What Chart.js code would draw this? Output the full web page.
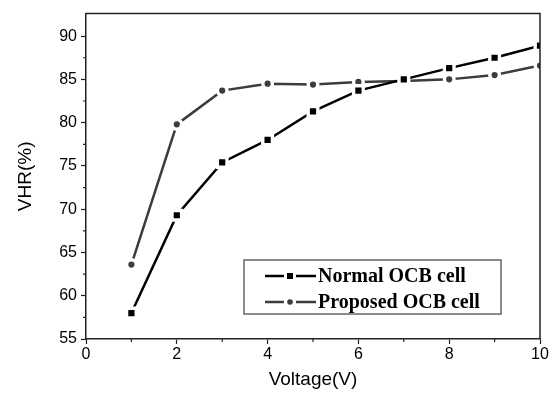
<!DOCTYPE html>
<html>
<head>
<meta charset="utf-8">
<script src="https://cdn.jsdelivr.net/npm/chart.js@4.4.1/dist/chart.umd.min.js"></script>
<style>
  html, body { margin: 0; padding: 0; background: #fff; }
  #wrap { width: 554px; height: 396px; }
</style>
</head>
<body>
<div id="wrap"><canvas id="chart" width="554" height="396"></canvas></div>
<script>
// data
const voltages = [1, 2, 3, 4, 5, 6, 7, 8, 9, 10];
const normalVHR = [58.0, 69.3, 75.4, 78.0, 81.3, 83.7, 85.0, 86.3, 87.5, 88.9];
const proposedVHR = [63.6, 79.8, 83.7, 84.5, 84.4, 84.7, 84.8, 85.0, 85.5, 86.6];
const seriesLabels = ["Normal OCB cell", "Proposed OCB cell"];

const toPoints = (xs, ys) => xs.map((x, i) => ({ x: x, y: ys[i] }));

// frame, minor ticks and the boxed legend
const extras = {
  id: "extras",
  afterDraw(chart) {
    const { ctx, chartArea: a, scales } = chart;
    ctx.save();
    ctx.strokeStyle = "#222";
    ctx.lineWidth = 1.5;
    ctx.beginPath();
    ctx.moveTo(a.left, a.top);
    ctx.lineTo(a.right, a.top);
    ctx.lineTo(a.right, a.bottom);
    ctx.stroke();

    // minor ticks
    ctx.lineWidth = 1.2;
    ctx.beginPath();
    for (let v = 1; v < 10; v += 2) {
      const px = scales.x.getPixelForValue(v);
      ctx.moveTo(px, a.bottom);
      ctx.lineTo(px, a.bottom + 3);
    }
    for (let v = 57.5; v < 92; v += 5) {
      const py = scales.y.getPixelForValue(v);
      ctx.moveTo(a.left, py);
      ctx.lineTo(a.left - 3, py);
    }
    ctx.stroke();

    // legend
    const bx = 244, by = 260, bw = 257, bh = 54;
    ctx.strokeStyle = "#666";
    ctx.lineWidth = 1.5;
    ctx.strokeRect(bx, by, bw, bh);
    ctx.font = "bold 20px 'Liberation Serif'";
    ctx.textBaseline = "middle";
    chart.data.datasets.forEach((ds, i) => {
      const cy = by + 16 + i * 26;
      ctx.strokeStyle = ds.borderColor;
      ctx.fillStyle = ds.borderColor;
      ctx.lineWidth = 2.5;
      ctx.beginPath();
      ctx.moveTo(bx + 21, cy);
      ctx.lineTo(bx + 40, cy);
      ctx.moveTo(bx + 52, cy);
      ctx.lineTo(bx + 72, cy);
      ctx.stroke();
      if (ds.pointStyle === "rect") {
        ctx.fillRect(bx + 43, cy - 3, 6, 6);
      } else {
        ctx.beginPath();
        ctx.arc(bx + 46, cy, 2.8, 0, Math.PI * 2);
        ctx.fill();
      }
      ctx.fillStyle = "#000";
      ctx.fillText(ds.label, bx + 74, cy + 1);
    });
    ctx.restore();
  }
};

const tickFont = { family: "'Liberation Sans', Arial", size: 16 };

new Chart(document.getElementById("chart"), {
  type: "line",
  data: {
    datasets: [
      {
        label: seriesLabels[0],
        data: toPoints(voltages, normalVHR),
        borderColor: "#000",
        backgroundColor: "#000",
        borderWidth: 2.5,
        pointStyle: "rect",
        pointRadius: 6.8,
        pointBorderColor: "#fff",
        pointBorderWidth: 3.4,
        tension: 0,
      },
      {
        label: seriesLabels[1],
        data: toPoints(voltages, proposedVHR),
        borderColor: "#3c3c3c",
        backgroundColor: "#3c3c3c",
        borderWidth: 2.5,
        pointStyle: "circle",
        pointRadius: 4.8,
        pointBorderColor: "#fff",
        pointBorderWidth: 3.4,
        tension: 0,
      },
    ],
  },
  options: {
    responsive: false,
    animation: false,
    events: [],
    layout: { padding: { top: 5, right: 14, left: 0, bottom: 0 } },
    plugins: {
      legend: { display: false },
      tooltip: { enabled: false },
    },
    scales: {
      x: {
        type: "linear",
        min: 0,
        max: 10,
        afterFit: (s) => { s.height = 57; },
        border: { display: true, color: "#222", width: 1.5 },
        grid: {
          drawOnChartArea: false,
          tickLength: 5,
          tickWidth: 1.2,
          tickColor: (c) => (c.tick && c.tick.value % 2 === 0 ? "#222" : "rgba(0,0,0,0)"),
        },
        ticks: {
          stepSize: 1,
          padding: 1,
          color: "#000",
          font: tickFont,
          maxRotation: 0,
          autoSkip: false,
          callback: (v) => (v % 2 === 0 ? String(v) : ""),
        },
        title: {
          display: true,
          text: "Voltage(V)",
          color: "#000",
          font: { family: "'Liberation Sans', Arial", size: 19 },
          padding: { top: 0, bottom: 5 },
        },
      },
      y: {
        min: 55,
        max: 92.6,
        afterFit: (s) => { s.width = 86; },
        border: { display: true, color: "#222", width: 1.5 },
        grid: {
          drawOnChartArea: false,
          tickLength: 5,
          tickWidth: 1.2,
          tickColor: (c) => (c.tick && c.tick.value % 5 === 0 ? "#222" : "rgba(0,0,0,0)"),
        },
        ticks: {
          stepSize: 2.5,
          includeBounds: false,
          padding: 4,
          color: "#000",
          font: tickFont,
          autoSkip: false,
          callback: (v) => (v % 5 === 0 ? String(v) : ""),
        },
        title: {
          display: true,
          text: "VHR(%)",
          color: "#000",
          font: { family: "'Liberation Sans', Arial", size: 19 },
          padding: { top: 14, bottom: 0 },
        },
      },
    },
  },
  plugins: [extras],
});
</script>
</body>
</html>
